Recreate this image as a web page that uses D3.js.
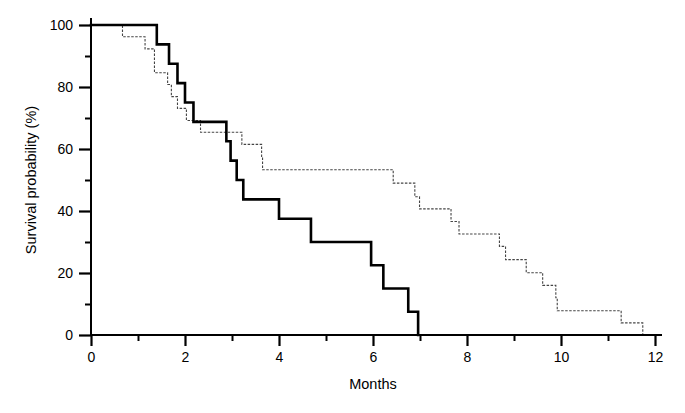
<!DOCTYPE html>
<html>
<head>
<meta charset="utf-8">
<script src="https://cdn.jsdelivr.net/npm/d3@7"></script>
<style>
  html, body { margin: 0; padding: 0; background: #fff; }
  svg { display: block; font-family: Arial, "Liberation Sans", Helvetica, sans-serif; }
</style>
</head>
<body>
<svg id="chart" width="685" height="413"></svg>
<script>
// Group 1 (solid, thick)
const solidTimes = [0, 1.40, 1.66, 1.84, 2.00, 2.18, 2.88, 2.97, 3.10, 3.24, 4.00, 4.68, 5.96, 6.22, 6.75, 6.96];
const solidSurv  = [100, 93.75, 87.5, 81.25, 75, 68.75, 62.5, 56.25, 50, 43.75, 37.5, 30, 22.5, 15, 7.5, 0];

// Group 2 (dashed, thin)
const dashTimes = [0, 0.67, 1.15, 1.35, 1.63, 1.71, 1.84, 2.03, 2.33, 3.21, 3.63, 3.65, 6.43, 6.89, 6.99, 7.66, 7.83, 8.69, 8.82, 9.26, 9.61, 9.89, 9.92, 11.28, 11.74];
const dashSurv  = [100, 96.2, 92.3, 84.6, 80.8, 76.9, 73.1, 69.2, 65.4, 61.5, 57.4, 53.3, 49.0, 44.6, 40.7, 36.6, 32.6, 28.6, 24.3, 20.1, 16.0, 12.0, 7.8, 3.9, 0];

const xMajorTicks = [0, 2, 4, 6, 8, 10, 12];
const xMinorTicks = [1, 3, 5, 7, 9, 11];
const yMajorTicks = [0, 20, 40, 60, 80, 100];
const yMinorTicks = [10, 30, 50, 70, 90];

const xLabel = "Months";
const yLabel = "Survival probability (%)";

const svg = d3.select("#chart");
const x = d3.scaleLinear().domain([0, 12]).range([91, 655]);
const y = d3.scaleLinear().domain([0, 100]).range([335, 25]);

const line = d3.line().x(d => x(d[0])).y(d => y(d[1])).curve(d3.curveStepAfter);

const solidData = solidTimes.map((t, i) => [t, solidSurv[i]]);
const dashData = dashTimes.map((t, i) => [t, dashSurv[i]]);

svg.append("path").attr("d", line(dashData))
  .attr("fill", "none").attr("stroke", "#444").attr("stroke-width", 1.1)
  .attr("stroke-dasharray", "2.5,1.5");

svg.append("path").attr("d", line(solidData))
  .attr("fill", "none").attr("stroke", "#000").attr("stroke-width", 2.6)
  .attr("stroke-linejoin", "miter").attr("stroke-linecap", "square");

// axes
const axisColor = "#000";
// x axis line
svg.append("line").attr("x1", x(0)).attr("x2", 662).attr("y1", y(0)).attr("y2", y(0))
  .attr("stroke", axisColor).attr("stroke-width", 2);
// y axis line
svg.append("line").attr("x1", x(0)).attr("x2", x(0)).attr("y1", 18).attr("y2", y(0))
  .attr("stroke", axisColor).attr("stroke-width", 2);

const xMajor = d3.axisBottom(x).tickValues(xMajorTicks).tickSize(11).tickPadding(4).tickFormat(d3.format("d"));
const gx = svg.append("g").attr("transform", `translate(0,${y(0)})`).call(xMajor);
gx.select(".domain").remove();
gx.selectAll(".tick line").attr("stroke-width", 2.2);
gx.selectAll(".tick text").attr("font-size", 14).attr("fill", "#000").attr("dy", "0.85em");

const xMinor = d3.axisBottom(x).tickValues(xMinorTicks).tickSize(6).tickFormat("");
const gxm = svg.append("g").attr("transform", `translate(0,${y(0)})`).call(xMinor);
gxm.select(".domain").remove();
gxm.selectAll(".tick line").attr("stroke-width", 2);

const yMajor = d3.axisLeft(y).tickValues(yMajorTicks).tickSize(12).tickPadding(6).tickFormat(d3.format("d"));
const gy = svg.append("g").attr("transform", `translate(${x(0)},0)`).call(yMajor);
gy.select(".domain").remove();
gy.selectAll(".tick line").attr("stroke-width", 2.2);
gy.selectAll(".tick text").attr("font-size", 14).attr("fill", "#000");

const yMinor = d3.axisLeft(y).tickValues(yMinorTicks).tickSize(6).tickFormat("");
const gym = svg.append("g").attr("transform", `translate(${x(0)},0)`).call(yMinor);
gym.select(".domain").remove();
gym.selectAll(".tick line").attr("stroke-width", 2);

svg.append("text").attr("x", 373).attr("y", 389).attr("text-anchor", "middle")
  .attr("font-size", 14.5).attr("fill", "#000").text(xLabel);

svg.append("text").attr("transform", `translate(36,180) rotate(-90)`).attr("text-anchor", "middle")
  .attr("font-size", 14.5).attr("fill", "#000").text(yLabel);
</script>
</body>
</html>
